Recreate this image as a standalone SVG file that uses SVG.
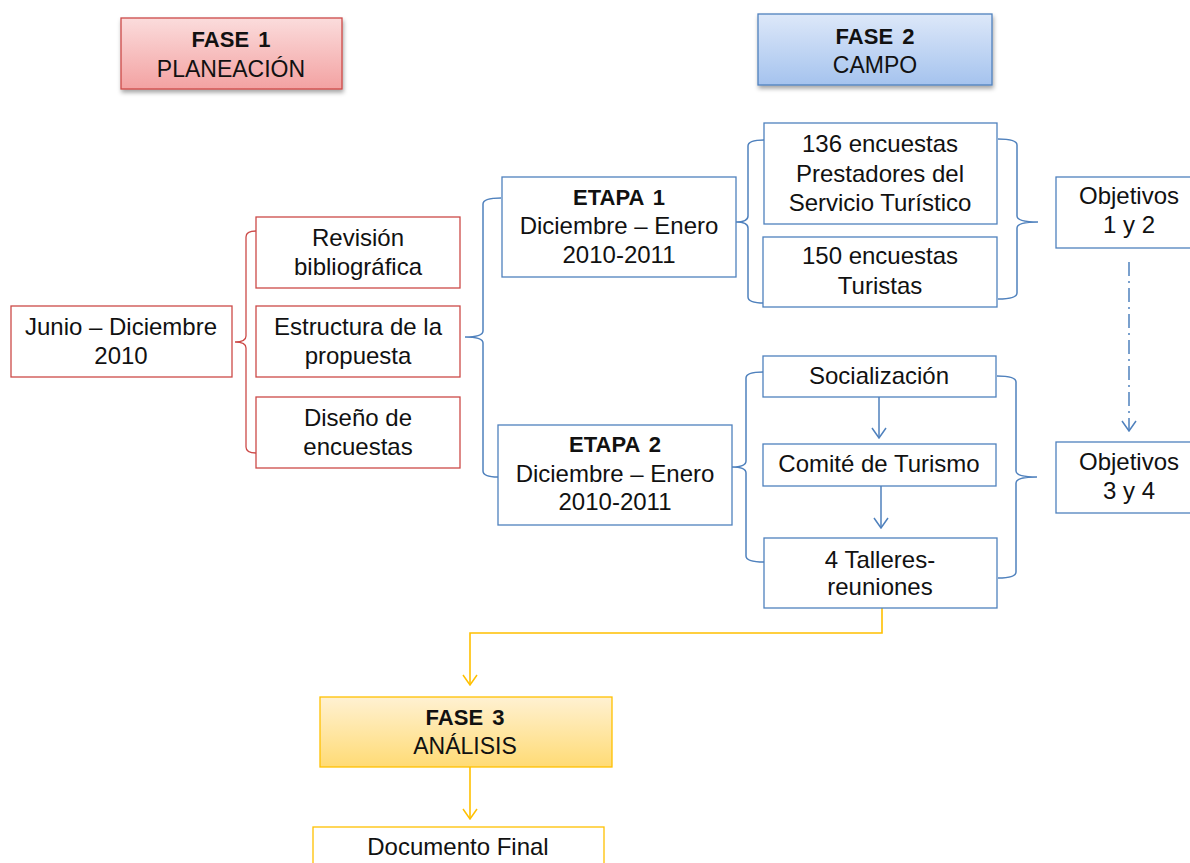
<svg xmlns="http://www.w3.org/2000/svg" width="1190" height="863" viewBox="0 0 1190 863">
<defs>
<linearGradient id="gRed" x1="0" y1="0" x2="0" y2="1"><stop offset="0" stop-color="#FBDCDC"/><stop offset="1" stop-color="#F3A2A2"/></linearGradient>
<linearGradient id="gBlue" x1="0" y1="0" x2="0" y2="1"><stop offset="0" stop-color="#DDE8F9"/><stop offset="1" stop-color="#A5C3EE"/></linearGradient>
<linearGradient id="gYel" x1="0" y1="0" x2="0" y2="1"><stop offset="0" stop-color="#FFF1D2"/><stop offset="1" stop-color="#FFDB75"/></linearGradient>
<filter id="sh" x="-10%" y="-10%" width="130%" height="140%"><feDropShadow dx="1" dy="3" stdDeviation="2" flood-color="#000" flood-opacity="0.35"/></filter>
<marker id="aB" viewBox="0 0 12 16" refX="11" refY="8" markerWidth="12" markerHeight="16" orient="auto" markerUnits="userSpaceOnUse"><path d="M1,1 L11,8 L1,15" fill="none" stroke="#4F81BD" stroke-width="1.5"/></marker>
<marker id="aY" viewBox="0 0 12 16" refX="11" refY="8" markerWidth="12" markerHeight="16" orient="auto" markerUnits="userSpaceOnUse"><path d="M1,1 L11,8 L1,15" fill="none" stroke="#FFC000" stroke-width="1.5"/></marker>
</defs>
<style>
text{font-family:"Liberation Sans",Arial,sans-serif;font-size:24px;fill:#111;text-anchor:middle}
.b{font-weight:bold;font-size:22px;word-spacing:3px}
.t{font-size:23px}
.rb{fill:#fff;stroke:#CC4A48;stroke-width:1.3}
.bb{fill:#fff;stroke:#4F81BD;stroke-width:1.3}
.br{fill:none;stroke:#CC4A48;stroke-width:1.3}
.bl{fill:none;stroke:#4F81BD;stroke-width:1.5}
.yl{fill:none;stroke:#FFC000;stroke-width:1.6}
</style>
<rect width="1190" height="863" fill="#fff"/>

<g id="connectors">
<path class="br" d="M256,231 Q246,231 246,237 L246,336 Q246,342 235,342 Q246,342 246,348 L246,447 Q246,453 256,453"/>
<path class="bl" d="M501,198 Q483,198 483,204 L483,331 Q483,337 465,337 Q483,337 483,343 L483,471 Q483,477 498,477"/>
<path class="bl" d="M764,140 Q748,140 748,146 L748,216 Q748,222 736,222 Q748,222 748,228 L748,297 Q748,303 764,303"/>
<path class="bl" d="M998,139 Q1017,139 1017,145 L1017,216 Q1017,222 1038,222 Q1017,222 1017,228 L1017,293 Q1017,299 998,299"/>
<path class="bl" d="M763,372 Q746,372 746,378 L746,461 Q746,467 732,467 Q746,467 746,473 L746,556 Q746,562 764,562"/>
<path class="bl" d="M997,376 Q1016,376 1016,382 L1016,471 Q1016,477 1037,477 Q1016,477 1016,483 L1016,572 Q1016,578 998,578"/>
<path class="bl" d="M879,397 L879,438" marker-end="url(#aB)"/>
<path class="bl" d="M881,486 L881,528" marker-end="url(#aB)"/>
<path class="bl" d="M1129,262 L1129,431" stroke-dasharray="14 5 2 5" marker-end="url(#aB)"/>
<path class="yl" d="M882,608 L882,633 L470,633 L470,685" marker-end="url(#aY)"/>
<path class="yl" d="M470,767 L470,819" marker-end="url(#aY)"/>
</g>

<g id="fase1">
<rect x="121" y="18" width="221" height="71" fill="url(#gRed)" stroke="#CC4A48" stroke-width="1.3" filter="url(#sh)"/>
<text class="b" x="231" y="47">FASE 1</text>
<text class="t" x="231" y="77">PLANEACIÓN</text>
</g>
<g id="fase2">
<rect x="758" y="14" width="234" height="71" fill="url(#gBlue)" stroke="#4F81BD" stroke-width="1.3" filter="url(#sh)"/>
<text class="b" x="875" y="44">FASE 2</text>
<text class="t" x="875" y="73">CAMPO</text>
</g>

<g id="junio">
<rect class="rb" x="11" y="306" width="221" height="71"/>
<text x="121" y="335">Junio – Diciembre</text>
<text x="121" y="364">2010</text>
</g>
<g id="revision">
<rect class="rb" x="256" y="217" width="204" height="71"/>
<text x="358" y="246">Revisión</text>
<text x="358" y="275">bibliográfica</text>
</g>
<g id="estructura">
<rect class="rb" x="256" y="306" width="204" height="71"/>
<text x="358" y="335">Estructura de la</text>
<text x="358" y="364">propuesta</text>
</g>
<g id="diseno">
<rect class="rb" x="256" y="397" width="204" height="71"/>
<text x="358" y="426">Diseño de</text>
<text x="358" y="455">encuestas</text>
</g>

<g id="etapa1">
<rect class="bb" x="502" y="177" width="234" height="100"/>
<text class="b" x="619" y="205">ETAPA 1</text>
<text x="619" y="234">Diciembre – Enero</text>
<text x="619" y="263">2010-2011</text>
</g>
<g id="etapa2">
<rect class="bb" x="498" y="425" width="234" height="100"/>
<text class="b" x="615" y="452">ETAPA 2</text>
<text x="615" y="482">Diciembre – Enero</text>
<text x="615" y="510">2010-2011</text>
</g>

<g id="enc136">
<rect class="bb" x="764" y="123" width="233" height="101"/>
<text x="880" y="152">136 encuestas</text>
<text x="880" y="182">Prestadores del</text>
<text x="880" y="211">Servicio Turístico</text>
</g>
<g id="enc150">
<rect class="bb" x="763" y="237" width="234" height="70"/>
<text x="880" y="264">150 encuestas</text>
<text x="880" y="294">Turistas</text>
</g>

<g id="obj12">
<rect class="bb" x="1056" y="177" width="160" height="71"/>
<text x="1129" y="204">Objetivos</text>
<text x="1129" y="233">1 y 2</text>
</g>
<g id="obj34">
<rect class="bb" x="1056" y="442" width="160" height="71"/>
<text x="1129" y="470">Objetivos</text>
<text x="1129" y="499">3 y 4</text>
</g>

<g id="socializacion">
<rect class="bb" x="763" y="356" width="233" height="41"/>
<text x="879" y="384">Socialización</text>
</g>
<g id="comite">
<rect class="bb" x="763" y="444" width="233" height="42"/>
<text x="879" y="472">Comité de Turismo</text>
</g>
<g id="talleres">
<rect class="bb" x="764" y="538" width="233" height="70"/>
<text x="880" y="568">4 Talleres-</text>
<text x="880" y="595">reuniones</text>
</g>

<g id="fase3">
<rect x="320" y="697" width="292" height="70" fill="url(#gYel)" stroke="#FFC000" stroke-width="1.3"/>
<text class="b" x="465" y="725">FASE 3</text>
<text class="t" x="465" y="754">ANÁLISIS</text>
</g>
<g id="documento">
<rect x="313" y="827" width="291" height="60" fill="#fff" stroke="#FFC000" stroke-width="1.3"/>
<text x="458" y="855">Documento Final</text>
</g>
</svg>
